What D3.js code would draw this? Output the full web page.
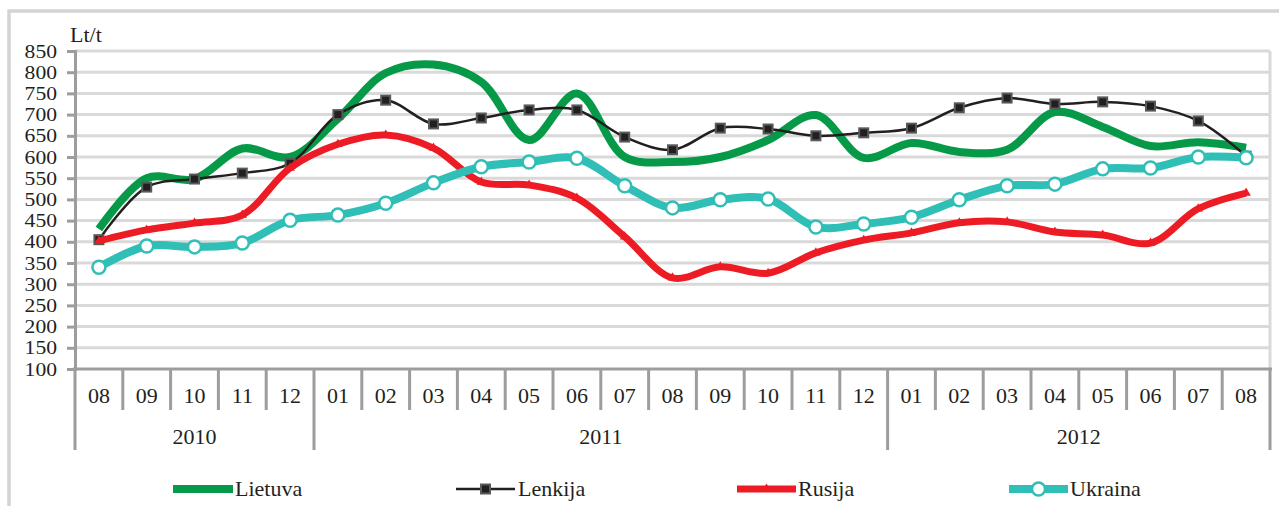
<!DOCTYPE html>
<html>
<head>
<meta charset="utf-8">
<script src="https://cdn.jsdelivr.net/npm/d3@7"></script>
<style>
  body { margin: 0; background: #fff; }
</style>
</head>
<body>
<script>
var w = 1279,
  h = 506;
var serif = '"Liberation Serif", "Times New Roman", "DejaVu Serif", serif';
var fs = 22;

var months = ['08', '09', '10', '11', '12',
  '01', '02', '03', '04', '05', '06', '07', '08', '09', '10', '11', '12',
  '01', '02', '03', '04', '05', '06', '07', '08'];
var years = ['2010', '2011', '2012'];
var yearCounts = [5, 12, 8];
var yTicks = [100, 150, 200, 250, 300, 350, 400, 450, 500, 550, 600, 650, 700, 750, 800, 850];

var lietuva = [430, 550, 548, 620, 600, 690, 798, 818, 777, 640, 750, 600, 588, 600, 640, 699, 598, 633, 612, 617, 706, 671, 626, 635, 622];
var lenkija = [405, 529, 548, 562, 585, 700, 734, 678, 692, 711, 711, 647, 617, 668, 666, 650, 657, 668, 716, 739, 725, 730, 720, 685, 602];
var rusija = [402, 428, 444, 463, 574, 630, 652, 621, 541, 534, 503, 412, 315, 341, 326, 374, 404, 421, 445, 447, 423, 416, 397, 478, 515];
var ukraina = [340, 390, 388, 397, 451, 463, 491, 539, 577, 588, 597, 532, 480, 499, 501, 435, 442, 458, 499, 532, 536, 572, 574, 600, 598];

var svg = d3.select('body').append('svg')
  .attr('width', w)
  .attr('height', h)
  .style('font-family', serif);

// outer frame
svg.append('rect')
  .attr('x', 9).attr('y', 11)
  .attr('width', w + 10).attr('height', h + 10)
  .attr('fill', 'none')
  .attr('stroke', '#d4d4d4')
  .attr('stroke-width', 3.5);

var x = d3.scaleBand()
  .domain(d3.range(months.length))
  .range([75, 1270]);

var y = d3.scaleLinear()
  .domain([100, 850])
  .range([369, 51]);

var cx = function (d, i) { return x(i) + x.bandwidth() / 2; };

// plot area border (right side)
svg.append('line')
  .attr('x1', 1270).attr('x2', 1270)
  .attr('y1', y(850)).attr('y2', y(100))
  .attr('stroke', '#d9d9d9')
  .attr('stroke-width', 3);

// gridlines
svg.append('g')
  .selectAll('line')
  .data(yTicks.slice(1))
  .enter()
  .append('line')
  .attr('x1', 75)
  .attr('x2', 1270)
  .attr('y1', function (d) { return y(d); })
  .attr('y2', function (d) { return y(d); })
  .attr('stroke', '#d9d9d9')
  .attr('stroke-width', 3);

// y axis: labels packed tightly, so a smaller size stretched sideways
var stretch = 1.2;
var yAxis = svg.append('g')
  .attr('transform', 'translate(75,0)')
  .call(d3.axisLeft(y).tickValues(yTicks).tickSize(8).tickPadding(10));
yAxis.attr('font-family', serif).attr('font-size', 18);
yAxis.select('.domain').attr('stroke', '#9d9d9f').attr('stroke-width', 3);
yAxis.selectAll('.tick line').attr('stroke', '#9d9d9f').attr('stroke-width', 3);
yAxis.selectAll('text')
  .style('font-family', serif)
  .attr('fill', '#231f20')
  .attr('x', -18 / stretch)
  .attr('transform', 'scale(' + stretch + ',1)')
  .attr('dy', '0.34em');

function label(sel) {
  return sel.style('font-family', serif)
    .attr('font-size', fs)
    .attr('fill', '#231f20');
}

svg.append('text')
  .attr('x', 70)
  .attr('y', 42)
  .call(label)
  .text('Lt/t');

// x axis
var xAxis = svg.append('g');
xAxis.append('line')
  .attr('x1', 73).attr('x2', 1272)
  .attr('y1', 369).attr('y2', 369)
  .attr('stroke', '#9d9d9f')
  .attr('stroke-width', 3);

var bounds = d3.range(months.length + 1).map(function (i) {
  return i < months.length ? x(i) : x(months.length - 1) + x.bandwidth();
});
var yearBounds = [0];
yearCounts.forEach(function (c, i) { yearBounds.push(yearBounds[i] + c); });

xAxis.selectAll('.cat-tick')
  .data(bounds)
  .enter()
  .append('line')
  .attr('class', 'cat-tick')
  .attr('x1', function (d) { return d; })
  .attr('x2', function (d) { return d; })
  .attr('y1', 369)
  .attr('y2', function (d, i) { return yearBounds.indexOf(i) >= 0 ? 450 : 410; })
  .attr('stroke', '#9d9d9f')
  .attr('stroke-width', 3);

xAxis.selectAll('.month')
  .data(months)
  .enter()
  .append('text')
  .attr('class', 'month')
  .attr('x', cx)
  .attr('y', 403)
  .attr('text-anchor', 'middle')
  .call(label)
  .text(function (d) { return d; });

xAxis.selectAll('.year')
  .data(years)
  .enter()
  .append('text')
  .attr('class', 'year')
  .attr('x', function (d, i) { return (bounds[yearBounds[i]] + bounds[yearBounds[i + 1]]) / 2; })
  .attr('y', 444)
  .attr('text-anchor', 'middle')
  .call(label)
  .text(function (d) { return d; });

// lines
var line = d3.line()
  .x(cx)
  .y(function (d) { return y(d); })
  .curve(d3.curveCatmullRom.alpha(0.5));

var series = [
  { name: 'Lietuva', values: lietuva, color: '#069a48', width: 8 },
  { name: 'Lenkija', values: lenkija, color: '#231f20', width: 2.5 },
  { name: 'Rusija', values: rusija, color: '#ed1c24', width: 7 },
  { name: 'Ukraina', values: ukraina, color: '#30bfb6', width: 8 }
];

function drawMarker(g, name, px, py) {
  if (name === 'Lenkija') {
    g.append('rect')
      .attr('x', px - 4.5).attr('y', py - 4.5)
      .attr('width', 9).attr('height', 9)
      .attr('fill', '#231f20')
      .attr('stroke', '#58595b')
      .attr('stroke-width', 2);
  } else if (name === 'Rusija') {
    g.append('path')
      .attr('d', d3.symbol().type(d3.symbolTriangle).size(40)())
      .attr('transform', 'translate(' + px + ',' + py + ')')
      .attr('fill', '#ed1c24');
  } else if (name === 'Ukraina') {
    g.append('circle')
      .attr('cx', px).attr('cy', py)
      .attr('r', 6.5)
      .attr('fill', '#fff')
      .attr('stroke', '#30bfb6')
      .attr('stroke-width', 2.5);
  }
}

series.forEach(function (s) {
  var g = svg.append('g');
  g.append('path')
    .datum(s.values)
    .attr('d', line)
    .attr('fill', 'none')
    .attr('stroke', s.color)
    .attr('stroke-width', s.width)
    .attr('stroke-linejoin', 'round');
  s.values.forEach(function (v, i) {
    drawMarker(g, s.name, cx(v, i), y(v));
  });
});

// legend
var legendPos = [
  { x1: 173, x2: 233, tx: 235 },
  { x1: 456, x2: 515, tx: 518 },
  { x1: 737, x2: 796, tx: 798 },
  { x1: 1009, x2: 1068, tx: 1070 }
];

var legend = svg.selectAll('.legend')
  .data(series)
  .enter()
  .append('g')
  .attr('class', 'legend');

legend.append('line')
  .attr('x1', function (d, i) { return legendPos[i].x1; })
  .attr('x2', function (d, i) { return legendPos[i].x2; })
  .attr('y1', 489).attr('y2', 489)
  .attr('stroke', function (d) { return d.color; })
  .attr('stroke-width', function (d) { return d.width; });

legend.each(function (d, i) {
  drawMarker(d3.select(this), d.name, (legendPos[i].x1 + legendPos[i].x2) / 2, 489);
});

legend.append('text')
  .attr('x', function (d, i) { return legendPos[i].tx; })
  .attr('y', 496)
  .call(label)
  .text(function (d) { return d.name; });
</script>
</body>
</html>
